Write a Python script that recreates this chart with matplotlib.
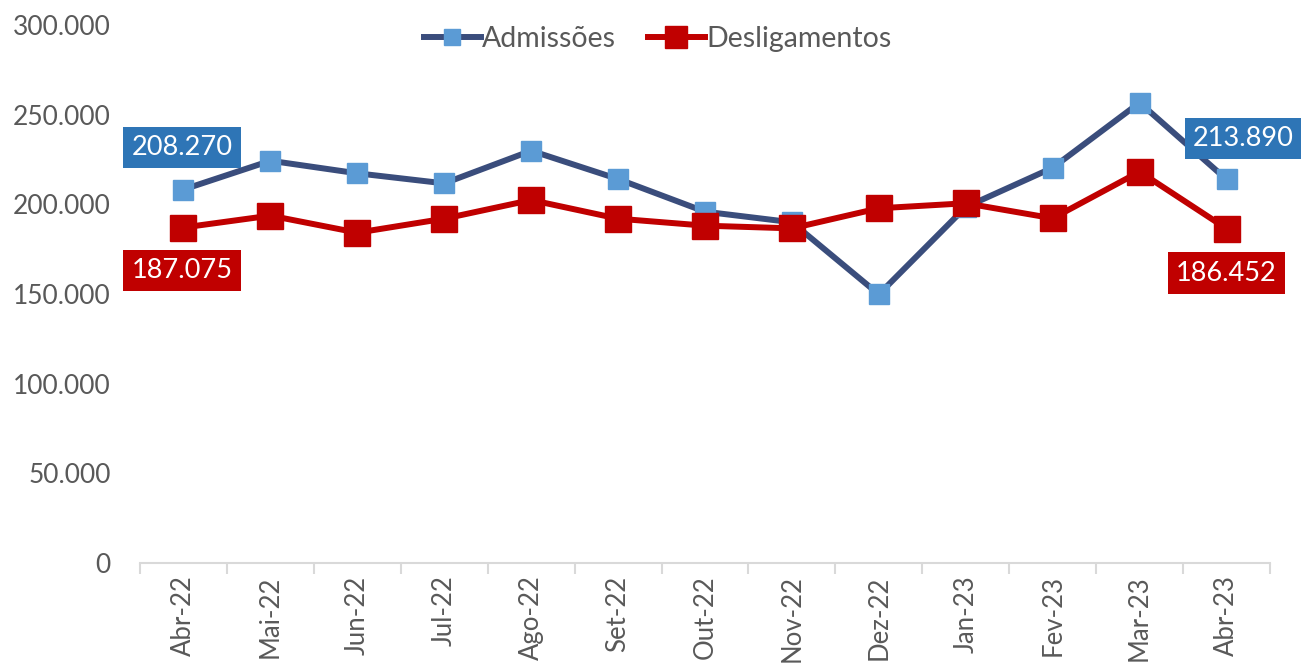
import matplotlib.pyplot as plt

meses = ['Abr-22', 'Mai-22', 'Jun-22', 'Jul-22', 'Ago-22', 'Set-22', 'Out-22',
         'Nov-22', 'Dez-22', 'Jan-23', 'Fev-23', 'Mar-23', 'Abr-23']
admissoes = [208270, 224300, 217300, 211700, 229900, 214100, 195900,
             190000, 149800, 198500, 220400, 256700, 213890]
desligamentos = [187075, 193700, 184200, 192000, 202400, 192000, 188100,
                 186600, 197800, 200600, 192200, 218200, 186452]
yticks = [0, 50000, 100000, 150000, 200000, 250000, 300000]

plt.rcParams['font.family'] = ['Lato', 'DejaVu Sans']

fig = plt.figure(figsize=(13.01, 6.69), dpi=100)
ax = fig.add_axes([140/1301, 1-563/669, 1130/1301, 538/669])

x = list(range(len(meses)))
ax.plot(x, admissoes, color='#3A4D7C', lw=4.3, marker='s', ms=15,
        mfc='#5B9BD5', mec='#5B9BD5', label='Admissões', zorder=3)
ax.plot(x, desligamentos, color='#C00000', lw=4.3, marker='s', ms=19,
        mfc='#C00000', mec='#C00000', label='Desligamentos', zorder=4)

def fmt(v):
    return f'{v:,}'.replace(',', '.')

# rotulos do primeiro e ultimo ponto
box_b = dict(boxstyle='square,pad=0.3', fc='#2E75B6', ec='none')
box_r = dict(boxstyle='square,pad=0.3', fc='#C00000', ec='none')
kw = dict(textcoords='offset points', ha='center', va='center', color='white',
          fontsize=19.5, zorder=6)
ax.annotate(fmt(admissoes[0]), (0, admissoes[0]), xytext=(-1, 30), bbox=box_b, **kw)
ax.annotate(fmt(desligamentos[0]), (0, desligamentos[0]), xytext=(-1, -31), bbox=box_r, **kw)
ax.annotate(fmt(admissoes[-1]), (12, admissoes[-1]), xytext=(12, 29.5), bbox=box_b, **kw)
ax.annotate(fmt(desligamentos[-1]), (12, desligamentos[-1]), xytext=(0, -32), bbox=box_r, **kw)

ax.set_xlim(-0.5, 12.5)
ax.set_ylim(0, 300000)
ax.set_yticks(yticks)
ax.set_yticklabels([fmt(v) for v in yticks], color='#595959', fontsize=19)
ax.set_xticks(x)
ax.set_xticklabels(meses, rotation=90, color='#595959', fontsize=18.5, va='top')
ax.set_xticks([i - 0.5 for i in range(len(meses) + 1)], minor=True)
ax.tick_params(axis='x', which='major', length=0, pad=9)
ax.tick_params(axis='x', which='minor', length=8, color='#D9D9D9', width=1.5)
ax.tick_params(axis='y', length=0, pad=21)
for s in ['top', 'right', 'left']:
    ax.spines[s].set_visible(False)
ax.spines['bottom'].set_color('#D9D9D9')
ax.spines['bottom'].set_linewidth(1.5)

leg = ax.legend(loc='upper center', bbox_to_anchor=(0.458, 1.045), ncol=2, frameon=False,
                fontsize=20.5, handlelength=2.0, handletextpad=0.05, columnspacing=1.1,
                markerscale=0.8, labelcolor='#595959')

fig.savefig('out.png', dpi=100)
